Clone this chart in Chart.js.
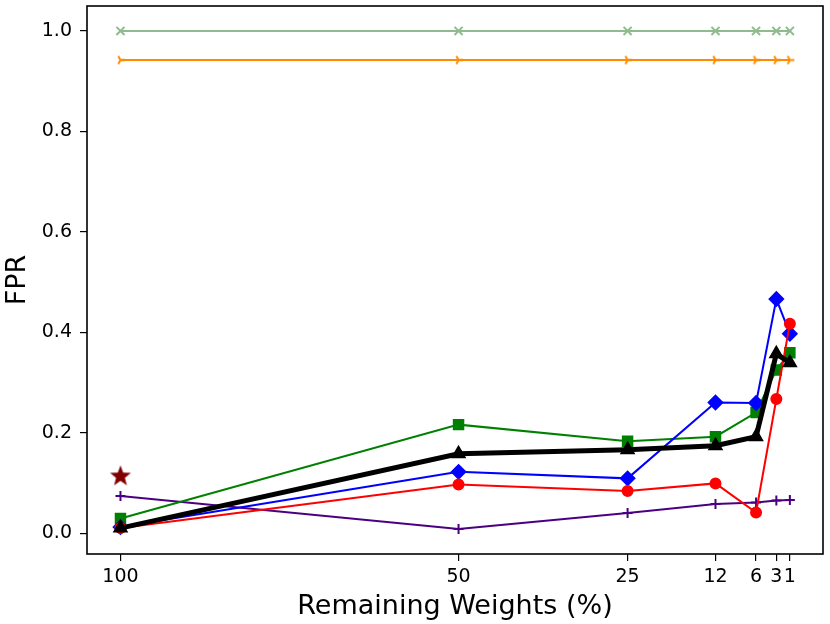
<!DOCTYPE html>
<html>
<head>
<meta charset="utf-8">
<script src="https://cdn.jsdelivr.net/npm/chart.js@4"></script>
<style>
  html, body { margin: 0; padding: 0; background: #fff; }
  #wrap { width: 830px; height: 624px; }
</style>
</head>
<body>
<div id="wrap"><canvas id="fpr-chart" width="830" height="624"></canvas></div>
<script>
// Remaining weights (%) on x, FPR on y
const remaining = [100, 50, 25, 12, 6, 3, 1];
const xTickLabels = ['100', '50', '25', '12', '6', '3', '1'];
const yTickValues = [0.0, 0.2, 0.4, 0.6, 0.8, 1.0];

const fprBlack = [0.010, 0.158, 0.166, 0.174, 0.192, 0.357, 0.339];
const fprRed = [0.010, 0.097, 0.084, 0.099, 0.041, 0.267, 0.417];
const fprBlue = [0.012, 0.122, 0.109, 0.260, 0.259, 0.466, 0.397];
const fprGreen = [0.029, 0.216, 0.183, 0.192, 0.240, 0.325, 0.359];
const fprIndigo = [0.074, 0.008, 0.040, 0.058, 0.061, 0.065, 0.066];
const fprOrange = [0.942, 0.942, 0.942, 0.942, 0.942, 0.942, 0.942];
const fprSeaGreen = [1.0, 1.0, 1.0, 1.0, 1.0, 1.0, 1.0];
const starX = [100];
const starY = [0.113];

function pts(xs, ys) {
    return xs.map((x, i) => ({ x: x, y: ys[i] }));
}

// small canvases for matplotlib markers chart.js doesn't have
function starMarker(color, r) {
    const c = document.createElement('canvas');
    c.width = c.height = Math.ceil(r * 2 + 2);
    const g = c.getContext('2d');
    const cx = c.width / 2, cy = c.height / 2;
    g.beginPath();
    for (let i = 0; i < 10; i++) {
        const rr = i % 2 === 0 ? r : r * 0.42;
        const a = -Math.PI / 2 + i * Math.PI / 5;
        g.lineTo(cx + rr * Math.cos(a), cy + rr * Math.sin(a));
    }
    g.closePath();
    g.fillStyle = color;
    g.fill();
    return c;
}

function triRightMarker(color, r) {
    const c = document.createElement('canvas');
    c.width = c.height = Math.ceil(r * 2 + 4);
    const g = c.getContext('2d');
    const cx = c.width / 2, cy = c.height / 2;
    g.strokeStyle = color;
    g.lineWidth = 2;
    g.beginPath();
    [0, 2 * Math.PI / 3, -2 * Math.PI / 3].forEach(a => {
        g.moveTo(cx, cy);
        g.lineTo(cx + r * Math.cos(a), cy + r * Math.sin(a));
    });
    g.stroke();
    return c;
}

// draw the full box around the plot area
const frame = {
    id: 'frame',
    afterDatasetsDraw(chart) {
        const a = chart.chartArea;
        const ctx = chart.ctx;
        ctx.save();
        ctx.strokeStyle = '#000';
        ctx.lineWidth = 1.6;
        ctx.strokeRect(a.left, a.top, a.right - a.left, a.bottom - a.top);
        ctx.restore();
    }
};

const tickFont = { family: 'DejaVu Sans', size: 19 };
const titleFont = { family: 'DejaVu Sans', size: 27 };

const ctx = document.getElementById('fpr-chart').getContext('2d');
new Chart(ctx, {
    type: 'line',
    data: {
        datasets: [
            {
                label: 'black',
                data: pts(remaining, fprBlack),
                borderColor: '#000',
                backgroundColor: '#000',
                borderWidth: 5,
                pointStyle: 'triangle',
                pointRadius: 7.5,
                pointBorderWidth: 1.5
            },
            {
                label: 'star',
                data: pts(starX, starY),
                showLine: false,
                pointStyle: starMarker('#800000', 11),
                pointRadius: 11
            },
            {
                label: 'red',
                data: pts(remaining, fprRed),
                borderColor: '#ff0000',
                backgroundColor: '#ff0000',
                borderWidth: 2,
                pointStyle: 'circle',
                pointRadius: 5
            },
            {
                label: 'blue',
                data: pts(remaining, fprBlue),
                borderColor: '#0000ff',
                backgroundColor: '#0000ff',
                borderWidth: 2,
                pointStyle: 'rectRot',
                pointRadius: 6.8
            },
            {
                label: 'green',
                data: pts(remaining, fprGreen),
                borderColor: '#008000',
                backgroundColor: '#008000',
                borderWidth: 2,
                pointStyle: 'rect',
                pointRadius: 6.7
            },
            {
                label: 'indigo',
                data: pts(remaining, fprIndigo),
                borderColor: '#4b0082',
                backgroundColor: '#4b0082',
                borderWidth: 2,
                pointStyle: 'cross',
                pointRadius: 5,
                pointBorderWidth: 2
            },
            {
                label: 'orange',
                data: pts(remaining, fprOrange),
                borderColor: '#ff8c00',
                backgroundColor: '#ff8c00',
                borderWidth: 2,
                pointStyle: triRightMarker('#ff8c00', 4.5),
                pointRadius: 5
            },
            {
                label: 'seagreen',
                data: pts(remaining, fprSeaGreen),
                borderColor: '#8fbc8f',
                backgroundColor: '#8fbc8f',
                borderWidth: 2,
                pointStyle: 'crossRot',
                pointRadius: 5.7,
                pointBorderWidth: 2
            }
        ]
    },
    options: {
        responsive: false,
        animation: false,
        events: [],
        layout: { autoPadding: false, padding: { top: 6, right: 7, left: 0, bottom: 0 } },
        elements: { line: { tension: 0 } },
        plugins: {
            legend: { display: false },
            tooltip: { enabled: false }
        },
        scales: {
            x: {
                type: 'linear',
                reverse: true,
                min: -3.9,
                max: 104.95,
                afterBuildTicks: s => { s.ticks = remaining.map(v => ({ value: v })); },
                afterFit: s => { s.height = 70; s.paddingLeft = 0; s.paddingRight = 0; },
                border: { display: false },
                grid: { drawOnChartArea: false, drawTicks: true, tickLength: 7, color: '#000', lineWidth: 1.2 },
                ticks: {
                    autoSkip: false,
                    maxRotation: 0,
                    padding: 5,
                    color: '#000',
                    font: tickFont,
                    callback: v => xTickLabels[remaining.indexOf(v)]
                },
                title: {
                    display: true,
                    text: 'Remaining Weights (%)',
                    color: '#000',
                    font: titleFont,
                    padding: { top: 0, bottom: 1 }
                }
            },
            y: {
                type: 'linear',
                min: -0.0416,
                max: 1.0496,
                afterBuildTicks: s => { s.ticks = yTickValues.map(v => ({ value: v })); },
                afterFit: s => { s.width = 87; s.paddingTop = 0; s.paddingBottom = 0; },
                border: { display: false },
                grid: { drawOnChartArea: false, drawTicks: true, tickLength: 7, color: '#000', lineWidth: 1.2 },
                ticks: {
                    padding: 8,
                    color: '#000',
                    font: tickFont,
                    callback: v => v.toFixed(1)
                },
                title: {
                    display: true,
                    text: 'FPR',
                    color: '#000',
                    font: titleFont,
                    padding: { top: 2, bottom: 0 }
                }
            }
        }
    },
    plugins: [frame]
});
</script>
</body>
</html>
